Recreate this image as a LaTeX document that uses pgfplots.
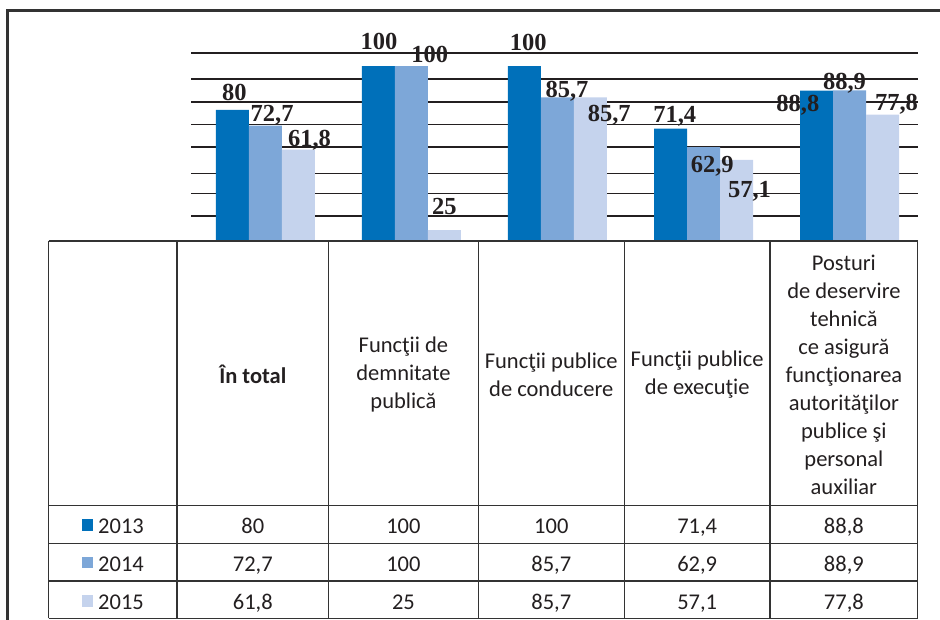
\documentclass[border=0pt]{standalone}
\usepackage{pgfplots}
\pgfplotsset{compat=1.18}
\usepackage{pgfplotstable}
\usepackage{fontspec}
\setmainfont{Carlito}
\newfontfamily\labelfont{Liberation Serif}
\definecolor{yrA}{HTML}{0070BA}
\definecolor{yrB}{HTML}{7DA7D8}
\definecolor{yrC}{HTML}{C5D3ED}
\definecolor{ink}{HTML}{231F20}
\definecolor{frame}{HTML}{333333}

% x = category, y = value, dx/dy = label offset in pt
\pgfplotstableread{
x y dx dy
0 80 2 9.5
1 100 0.5 16.7
2 100 3.8 16
3 71.4 4.2 6.5
4 88.8 -18.7 -21.3
}\dataA
\pgfplotstableread{
x y dx dy
0 72.7 6.7 4.7
1 100 18.3 3.7
2 85.7 9.5 -0.2
3 62.9 8.7 -25
4 88.9 -5 0.8
}\dataB
\pgfplotstableread{
x y dx dy
0 61.8 11 3.4
1 25 0 15.8
2 85.7 18.8 -24.6
3 57.1 13 -38
4 77.8 14 4.3
}\dataC

\begin{document}
\begin{tikzpicture}
\useasboundingbox (0pt,0pt) rectangle (940pt,620pt);
\begin{axis}[
    at={(191pt,379pt)}, anchor=south west,
    scale only axis, width=727pt, height=188.3pt,
    xmin=-0.510, xmax=4.469, ymin=20, ymax=106.1,
    ybar=0pt, bar width=33pt,
    axis line style={draw=none},
    major tick length=0pt,
    xtick=\empty,
    ytick={31.4,41.7,50.9,62.9,73.3,83.6,93.9,106.1},
    yticklabels={},
    ymajorgrids,
    major grid style={line width=1.8pt, ink},
    visualization depends on={\thisrow{dx} \as \labdx},
    visualization depends on={\thisrow{dy} \as \labdy},
    nodes near coords={\pgfmathprintnumber[use comma, assume math mode=true]{\pgfplotspointmeta}},
    every node near coord/.append style={font=\labelfont\bfseries\fontsize{24.5}{24.5}\selectfont,
        text=ink, inner sep=0pt, anchor=base, xshift=\labdx pt, yshift=\labdy pt},
]
\addplot[fill=yrA, draw=none] table[x=x, y=y] {\dataA};
\addplot[fill=yrB, draw=none] table[x=x, y=y] {\dataB};
\addplot[fill=yrC, draw=none] table[x=x, y=y] {\dataC};
\end{axis}

% outer frame
\draw[frame, line width=2.5pt] (7.5pt,0pt) -- (7.5pt,609.7pt) -- (940pt,609.7pt);

% data table
\begin{scope}[frame, line width=1.3pt]
\foreach \xx in {48.5,177,328.5,478.3,624.3,770,917.7}
  \draw (\xx pt,1.7pt) -- (\xx pt,379pt);
\foreach \yy in {379,114.3,76.7,39,1.7}
  \draw (48.5pt,\yy pt) -- (917.7pt,\yy pt);
\end{scope}

\begin{scope}[every node/.style={text=ink, align=center, inner sep=0pt,
    font=\fontsize{22.5}{28}\selectfont}]
\node at (252.8pt,245.5pt) {\bfseries În total};
\node at (403.4pt,245.5pt) {Funcţii de\\demnitate\\publică};
\node at (551.3pt,245.5pt) {Funcţii publice\\de conducere};
\node at (697.2pt,245.5pt) {Funcţii publice\\de execuţie};
\node at (843.9pt,245.5pt) {Posturi\\de deservire\\tehnică\\ce asigură\\funcţionarea\\autorităţilor\\publice şi\\personal\\auxiliar};

\node[anchor=base] at (112.8pt,86pt) {\textcolor{yrA}{\rule[3.3pt]{11.5pt}{11.5pt}}\hspace{5pt}2013};
\node[anchor=base] at (112.8pt,48.3pt) {\textcolor{yrB}{\rule[3.3pt]{11.5pt}{11.5pt}}\hspace{5pt}2014};
\node[anchor=base] at (112.8pt,10pt) {\textcolor{yrC}{\rule[3.3pt]{11.5pt}{11.5pt}}\hspace{5pt}2015};

\node[anchor=base] at (252.8pt,86pt) {80};
\node[anchor=base] at (252.8pt,48.3pt) {72,7};
\node[anchor=base] at (252.8pt,10pt) {61,8};
\node[anchor=base] at (403.4pt,86pt) {100};
\node[anchor=base] at (403.4pt,48.3pt) {100};
\node[anchor=base] at (403.4pt,10pt) {25};
\node[anchor=base] at (551.3pt,86pt) {100};
\node[anchor=base] at (551.3pt,48.3pt) {85,7};
\node[anchor=base] at (551.3pt,10pt) {85,7};
\node[anchor=base] at (697.2pt,86pt) {71,4};
\node[anchor=base] at (697.2pt,48.3pt) {62,9};
\node[anchor=base] at (697.2pt,10pt) {57,1};
\node[anchor=base] at (843.9pt,86pt) {88,8};
\node[anchor=base] at (843.9pt,48.3pt) {88,9};
\node[anchor=base] at (843.9pt,10pt) {77,8};
\end{scope}
\end{tikzpicture}
\end{document}
